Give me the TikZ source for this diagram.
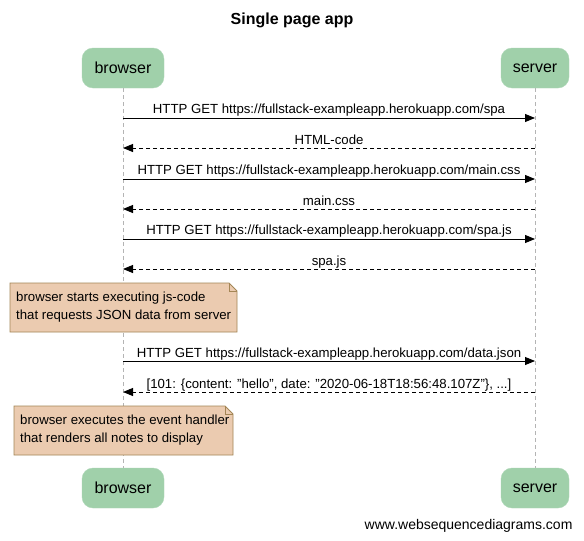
\documentclass[tikz,border=0pt]{standalone}
\usepackage{fontspec}
\setmainfont{Liberation Sans}
\usetikzlibrary{arrows.meta}
\definecolor{partgreen}{HTML}{A0D0AA}
\definecolor{notefill}{HTML}{EBCBB0}
\definecolor{noteline}{HTML}{A48656}
\definecolor{lifegray}{HTML}{B4B4B4}
\begin{document}
\begin{tikzpicture}[x=1pt,y=-1pt,
  part/.style={draw=partgreen!85!white, fill=partgreen, rounded corners=11pt, minimum height=40pt, inner sep=0pt, font=\fontsize{16}{18}\selectfont},
  lifeline/.style={draw=lifegray, dash pattern=on 4pt off 3pt, line width=0.8pt},
  req/.style={draw=black, line width=0.9pt, -{Triangle[length=10pt,width=8pt]}},
  resp/.style={draw=black, line width=0.9pt, dash pattern=on 4pt off 3pt, -{Triangle[length=10pt,width=8pt]}},
  msglabel/.style={font=\fontsize{13.2}{15}\selectfont, inner sep=0pt, anchor=base},
  notetext/.style={font=\fontsize{13.2}{18}\selectfont, align=left, inner sep=0pt, anchor=west},
  notebox/.style={draw=noteline, fill=notefill, line width=0.9pt}
]
\useasboundingbox (0,0) rectangle (584,541);
\fill[white] (0,0) rectangle (584,541);

\node[font=\bfseries\fontsize{16}{18}\selectfont] (title) at (292,20) {Single page app};

\node[part, minimum width=82pt] (bt) at (123,68) {browser};
\node[part, minimum width=68pt] (st) at (535,68) {server};
\node[part, minimum width=82pt] (bb) at (123,488) {browser};
\node[part, minimum width=68pt] (sb) at (535,488) {server};

\draw[lifeline] (bt.south) -- (bb.north);
\draw[lifeline] (st.south) -- (sb.north);

% message coordinates
\foreach \i/\y in {1/118,2/148,3/179,4/209,5/239,6/269,7/361,8/392}{
  \coordinate (b\i) at (123,\y);
  \coordinate (s\i) at (535,\y);
}

\draw[req] (b1) -- (s1);
\node[msglabel] (l1) at (329,113) {HTTP GET https://fullstack-exampleapp.herokuapp.com/spa};
\draw[resp] (s2) -- (b2);
\node[msglabel] (l2) at (329,144) {HTML-code};
\draw[req] (b3) -- (s3);
\node[msglabel] (l3) at (329,174) {HTTP GET https://fullstack-exampleapp.herokuapp.com/main.css};
\draw[resp] (s4) -- (b4);
\node[msglabel] (l4) at (329,205) {main.css};
\draw[req] (b5) -- (s5);
\node[msglabel] (l5) at (329,234) {HTTP GET https://fullstack-exampleapp.herokuapp.com/spa.js};
\draw[resp] (s6) -- (b6);
\node[msglabel] (l6) at (329,265) {spa.js};

% note 1
\draw[notebox] (10,283) -- (229,283) -- (237,291) -- (237,332) -- (10,332) -- cycle;
\draw[noteline, line width=0.9pt] (229,283) -- (229,291) -- (237,291);
\node[notetext] (n1) at (16,307.5) {browser starts executing js-code\\that requests JSON data from server};

\draw[req] (b7) -- (s7);
\node[msglabel] (l7) at (329,357) {HTTP GET https://fullstack-exampleapp.herokuapp.com/data.json};
\draw[resp] (s8) -- (b8);
\node[msglabel] (l8) at (329,388) {[101: \{content: "hello", date: "2020-06-18T18:56:48.107Z"\}, ...]};

% note 2
\draw[notebox] (14,406) -- (225,406) -- (233,414) -- (233,455) -- (14,455) -- cycle;
\draw[noteline, line width=0.9pt] (225,406) -- (225,414) -- (233,414);
\node[notetext] (n2) at (20,430.5) {browser executes the event handler\\that renders all notes to display};

\node[font=\fontsize{14}{16}\selectfont, anchor=east] (footer) at (576,526) {www.websequencediagrams.com};
\end{tikzpicture}
\end{document}
